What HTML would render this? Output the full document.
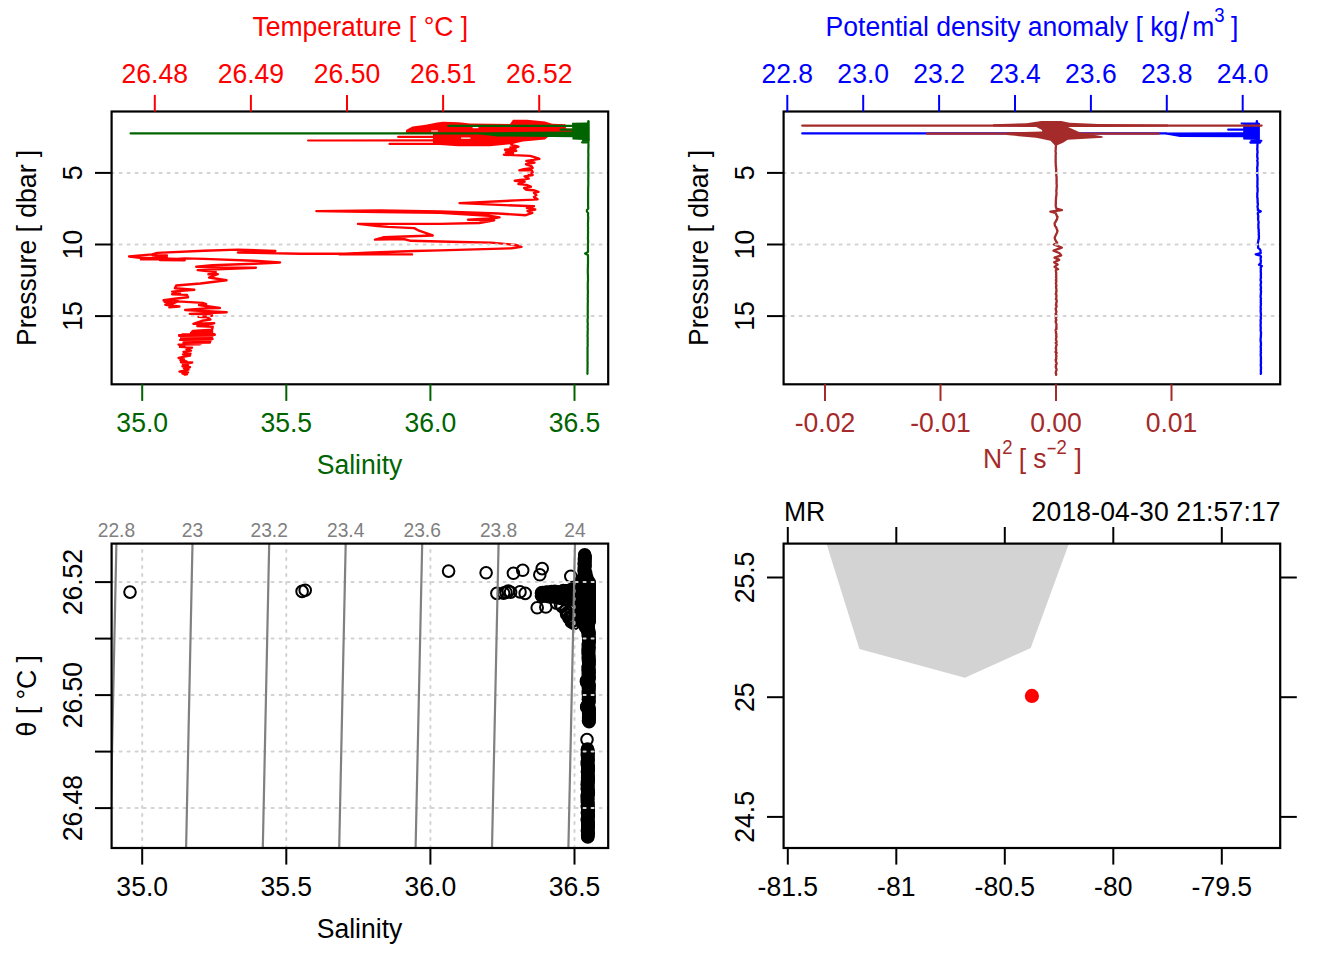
<!DOCTYPE html>
<html><head><meta charset="utf-8"><title>CTD plot</title>
<style>
html,body{margin:0;padding:0;background:#fff;}
body{width:1344px;height:960px;overflow:hidden;font-family:"Liberation Sans", sans-serif;}
svg{display:block;}
svg text{font-family:"Liberation Sans", sans-serif;}
</style></head><body>
<svg width="1344" height="960" viewBox="0 0 1344 960">
<rect width="1344" height="960" fill="#fff"/>
<polygon points="406.0,133.6 406.0,130.0 412.5,126.6 425.9,124.8 437.1,122.6 443.0,121.8 458.7,122.2 470.0,123.6 510.0,124.0 513.0,119.8 527.0,119.8 545.0,121.4 552.0,123.8 565.5,124.2 566.0,128.6 574.4,128.8 574.4,132.2 548.0,137.0 545.0,139.6 523.0,141.6 511.0,144.2 490.0,146.2 458.0,146.2 440.0,145.0 433.0,145.0 433.0,133.6" fill="#ff0000"/>
<polyline points="308.1,140.5 435.0,140.3" fill="none" stroke="#ff0000" stroke-width="2.2" stroke-linejoin="round" stroke-linecap="round" />
<polyline points="398.2,136.9 435.0,136.9" fill="none" stroke="#ff0000" stroke-width="2.2" stroke-linejoin="round" stroke-linecap="round" />
<polyline points="389.5,143.9 435.0,143.9" fill="none" stroke="#ff0000" stroke-width="2.2" stroke-linejoin="round" stroke-linecap="round" />
<polyline points="513.9,141.6 511.3,144.7 518.4,146.7 510.4,147.4 515.7,148.7 505.0,149.8 516.2,150.9 505.9,152.3 513.0,153.4 503.9,154.7 530.0,155.9 534.5,157.2 539.4,158.8 533.6,159.9 526.4,161.0 534.5,162.6 526.0,164.3 531.3,166.1 532.7,167.9 523.8,169.1 519.3,170.3 531.8,170.1 532.7,172.4 528.7,174.2 532.7,175.1 524.6,176.4 528.7,178.6 514.8,180.7 524.6,181.8 518.4,184.0 526.4,184.9 530.9,186.7 524.2,188.0 526.4,189.8 533.6,190.2 538.5,191.8 534.0,192.9 536.3,195.1 534.0,196.9 537.6,199.2 533.6,199.6 516.2,200.4 459.6,203.1 504.3,205.1 534.0,206.3 526.9,208.1 535.2,209.5 527.5,211.1 532.3,212.9 525.7,215.2 498.3,213.5 440.0,211.4 380.0,210.5 316.4,211.1 380.0,212.0 440.0,212.9 488.8,215.8 499.5,217.4 493.6,218.2 468.0,219.8 494.2,220.2 479.3,223.0 440.0,223.9 358.0,223.9 377.4,226.0 388.1,226.9 414.3,228.1 419.0,230.7 426.2,233.1 432.7,235.5 383.3,237.3 375.0,239.6 403.6,239.0 410.7,240.8 460.0,242.0 491.2,242.6 516.2,245.0 521.5,246.8 511.4,248.3 440.0,250.4 414.3,251.0 366.7,252.7 339.0,254.2 412.0,254.4 339.0,253.8 300.0,253.8 237.9,252.5 275.4,251.0 237.9,249.6 204.0,250.8 157.3,252.9 152.0,254.4 129.1,256.5 140.1,257.8 184.7,259.2 141.0,259.4 166.9,257.2 152.5,255.2 166.9,255.4 158.0,257.0 160.0,258.6 184.7,260.2 160.0,260.0 184.7,258.4 204.0,258.9 253.9,260.8 280.0,262.5 253.9,263.8 212.4,265.2 196.3,266.8 255.9,267.7 197.7,270.1 215.8,272.1 208.4,274.2 217.8,274.2 209.1,277.5 226.5,280.2 200.4,283.5 176.2,285.5 174.9,288.2 194.3,289.8 172.2,291.6 180.0,293.0 172.2,294.2 187.0,294.9 188.0,297.3 174.6,298.8 163.6,300.3 177.6,300.0 164.5,301.7 172.9,302.9 165.4,304.7 179.4,306.5 169.3,307.4 172.0,304.0 177.6,301.4 202.6,302.9 206.2,304.1 199.0,305.0 219.9,308.0 208.6,308.3 185.1,310.0 226.7,312.2 189.8,313.9 211.5,314.2 212.1,315.7 198.5,316.9 206.8,317.2 210.4,319.6 202.0,320.8 193.4,323.8 214.2,323.2 197.3,326.1 212.7,326.7 212.1,329.7 193.1,330.9 192.3,331.5 212.2,331.8 193.1,332.1 210.5,332.4 191.1,332.7 212.1,333.0 192.7,333.3 211.6,333.6 193.5,333.9 214.4,334.2 182.4,334.5 214.8,334.8 179.1,335.1 212.7,335.4 179.2,335.7 211.5,336.0 182.2,336.3 212.2,336.6 182.7,336.9 210.7,337.2 181.8,337.5 210.2,337.8 181.0,338.1 209.5,338.4 182.9,338.7 212.5,339.0 181.7,339.3 211.0,339.6 180.2,339.9 210.7,340.2 183.5,340.5 210.6,340.8 184.3,341.1 207.2,341.4 183.9,341.7 208.2,342.0 184.6,342.3 209.9,342.6 183.5,342.9 201.2,343.2 183.7,343.5 199.9,343.8 183.5,344.1 199.5,344.4 178.5,344.6 184.5,345.8 180.0,346.9 192.0,347.6 186.5,349.3 191.0,350.6 183.5,351.9 190.5,353.6 183.0,354.4 190.0,355.5 184.5,356.6 178.6,358.0 184.0,359.4 180.5,360.4 186.5,361.4 181.0,362.3 192.2,362.5 183.0,364.0 188.0,365.2 182.5,366.3 190.0,367.2 184.0,368.2 188.5,369.6 179.5,371.6 188.0,372.4 182.5,373.6 187.0,374.2 184.6,374.6" fill="none" stroke="#ff0000" stroke-width="2.4" stroke-linejoin="round" stroke-linecap="round" />
<line x1="431.50" y1="131.00" x2="437.50" y2="131.00" stroke="#fff" stroke-width="1.1" stroke-linecap="round"/>
<line x1="461.50" y1="138.10" x2="470.00" y2="138.10" stroke="#fff" stroke-width="1.1" stroke-linecap="round"/>
<line x1="473.00" y1="127.60" x2="478.00" y2="127.60" stroke="#fff" stroke-width="1.1" stroke-linecap="round"/>
<polyline points="588.4,140.0 588.3,141.5 588.4,142.9 588.4,144.3 588.5,145.7 588.4,147.1 588.4,148.5 588.3,149.9 588.3,151.3 588.3,152.7 588.4,154.1 588.4,155.5 588.3,156.9 588.3,158.3 588.3,159.7 588.3,161.1 588.3,162.5 588.3,163.9 588.3,165.3 588.2,166.7 588.3,168.1 588.3,169.5 588.3,170.9 588.4,172.3 588.3,173.7 588.3,175.1 588.3,176.5 588.3,177.9 588.2,179.3 588.3,180.7 588.3,182.1 588.3,183.5 588.3,184.9 588.2,186.3 588.2,187.7 588.1,189.1 588.2,190.5 588.1,191.9 588.1,193.3 588.1,194.7 588.1,196.1 588.1,197.5 588.1,198.9 588.1,200.3 588.1,201.7 588.1,203.1 588.1,204.5 588.1,205.9 588.2,207.3 588.2,208.7 586.9,210.1 586.9,211.5 588.1,212.9 588.1,214.3 588.0,215.7 588.2,217.1 588.2,218.5 588.1,219.9 588.1,221.3 588.0,222.7 588.0,224.1 588.0,225.5 588.0,226.9 588.1,228.3 588.0,229.7 588.0,231.1 588.1,232.5 588.0,233.9 588.0,235.3 588.0,236.7 587.9,238.1 588.0,239.5 588.1,240.9 588.1,242.3 588.0,243.7 587.9,245.1 588.0,246.5 587.9,247.9 588.0,249.3 588.0,250.7 588.0,252.1 585.1,253.5 587.9,254.9 588.0,256.3 588.0,257.7 588.0,259.1 588.0,260.5 588.0,261.9 588.0,263.3 587.9,264.7 587.9,266.1 587.9,267.5 587.8,268.9 587.8,270.3 587.8,271.7 587.8,273.1 587.9,274.5 588.0,275.9 587.9,277.3 588.0,278.7 588.0,280.1 587.9,281.5 587.8,282.9 587.8,284.3 587.8,285.7 587.8,287.1 587.8,288.5 587.8,289.9 587.9,291.3 587.9,292.7 587.8,294.1 587.8,295.5 587.9,296.9 587.7,298.3 587.8,299.7 587.9,301.1 587.8,302.5 587.8,303.9 587.8,305.3 587.7,306.7 587.8,308.1 587.7,309.5 587.8,310.9 587.8,312.3 587.7,313.7 587.7,315.1 587.8,316.5 587.8,317.9 587.6,319.3 587.6,320.7 587.6,322.1 587.8,323.5 587.8,324.9 587.6,326.3 587.7,327.7 587.8,329.1 587.7,330.5 587.6,331.9 587.7,333.3 587.6,334.7 587.5,336.1 587.7,337.5 587.7,338.9 587.6,340.3 587.7,341.7 587.6,343.1 587.7,344.5 587.7,345.9 587.5,347.3 587.5,348.7 587.6,350.1 587.5,351.5 587.6,352.9 587.5,354.3 587.6,355.7 587.5,357.1 587.6,358.5 587.5,359.9 587.5,361.3 587.6,362.7 587.6,364.1 587.5,365.5 587.6,366.9 587.5,368.3 587.5,369.7 587.5,371.1 587.4,372.5 587.5,373.8" fill="none" stroke="#006400" stroke-width="2.2" stroke-linejoin="round" stroke-linecap="round" />
<polyline points="130.6,133.4 497.0,133.4" fill="none" stroke="#006400" stroke-width="2.2" stroke-linejoin="round" stroke-linecap="round" />
<polyline points="448.3,125.9 572.0,125.9" fill="none" stroke="#006400" stroke-width="2.2" stroke-linejoin="round" stroke-linecap="round" />
<polyline points="560.6,129.7 574.0,129.7" fill="none" stroke="#006400" stroke-width="2.2" stroke-linejoin="round" stroke-linecap="round" />
<polyline points="583.0,140.7 587.0,140.7" fill="none" stroke="#006400" stroke-width="2.2" stroke-linejoin="round" stroke-linecap="round" />
<polyline points="582.0,142.3 587.0,142.3" fill="none" stroke="#006400" stroke-width="2.2" stroke-linejoin="round" stroke-linecap="round" />
<polyline points="588.3,121.2 588.3,141.0" fill="none" stroke="#006400" stroke-width="2.2" stroke-linejoin="round" stroke-linecap="round" />
<polygon points="497.0,132.2 574.5,131.6 574.5,137.3 497.0,136.4 480.0,134.4" fill="#006400"/>
<polygon points="572.0,122.8 587.0,122.4 589.5,120.6 589.6,140.2 572.5,139.6" fill="#006400"/>
<line x1="111.60" y1="172.90" x2="608.20" y2="172.90" stroke="#d3d3d3" stroke-width="2" stroke-dasharray="2 6" stroke-linecap="round"/>
<line x1="111.60" y1="244.50" x2="608.20" y2="244.50" stroke="#d3d3d3" stroke-width="2" stroke-dasharray="2 6" stroke-linecap="round"/>
<line x1="111.60" y1="316.10" x2="608.20" y2="316.10" stroke="#d3d3d3" stroke-width="2" stroke-dasharray="2 6" stroke-linecap="round"/>
<rect x="111.60" y="111.50" width="496.60" height="272.80" fill="none" stroke="#000" stroke-width="2.2"/>
<line x1="154.80" y1="111.50" x2="154.80" y2="94.90" stroke="#ff0000" stroke-width="2" />
<text transform="translate(154.80 82.70) scale(1 1.06)" fill="#ff0000" font-size="26.56" text-anchor="middle" >26.48</text>
<line x1="250.90" y1="111.50" x2="250.90" y2="94.90" stroke="#ff0000" stroke-width="2" />
<text transform="translate(250.90 82.70) scale(1 1.06)" fill="#ff0000" font-size="26.56" text-anchor="middle" >26.49</text>
<line x1="347.00" y1="111.50" x2="347.00" y2="94.90" stroke="#ff0000" stroke-width="2" />
<text transform="translate(347.00 82.70) scale(1 1.06)" fill="#ff0000" font-size="26.56" text-anchor="middle" >26.50</text>
<line x1="443.10" y1="111.50" x2="443.10" y2="94.90" stroke="#ff0000" stroke-width="2" />
<text transform="translate(443.10 82.70) scale(1 1.06)" fill="#ff0000" font-size="26.56" text-anchor="middle" >26.51</text>
<line x1="539.20" y1="111.50" x2="539.20" y2="94.90" stroke="#ff0000" stroke-width="2" />
<text transform="translate(539.20 82.70) scale(1 1.06)" fill="#ff0000" font-size="26.56" text-anchor="middle" >26.52</text>
<text transform="translate(360.30 35.80) scale(1 1.06)" fill="#ff0000" font-size="26.56" text-anchor="middle" >Temperature [ °C ]</text>
<line x1="142.20" y1="384.30" x2="142.20" y2="400.90" stroke="#006400" stroke-width="2" />
<text transform="translate(142.20 432.20) scale(1 1.06)" fill="#006400" font-size="26.56" text-anchor="middle" >35.0</text>
<line x1="286.30" y1="384.30" x2="286.30" y2="400.90" stroke="#006400" stroke-width="2" />
<text transform="translate(286.30 432.20) scale(1 1.06)" fill="#006400" font-size="26.56" text-anchor="middle" >35.5</text>
<line x1="430.40" y1="384.30" x2="430.40" y2="400.90" stroke="#006400" stroke-width="2" />
<text transform="translate(430.40 432.20) scale(1 1.06)" fill="#006400" font-size="26.56" text-anchor="middle" >36.0</text>
<line x1="574.50" y1="384.30" x2="574.50" y2="400.90" stroke="#006400" stroke-width="2" />
<text transform="translate(574.50 432.20) scale(1 1.06)" fill="#006400" font-size="26.56" text-anchor="middle" >36.5</text>
<text transform="translate(359.50 474.10) scale(1 1.06)" fill="#006400" font-size="26.56" text-anchor="middle" >Salinity</text>
<line x1="111.60" y1="172.90" x2="95.00" y2="172.90" stroke="#000" stroke-width="2" />
<text transform="translate(82.30 172.90) rotate(-90) scale(1 1.06)" fill="#000" font-size="26.56" text-anchor="middle" >5</text>
<line x1="111.60" y1="244.50" x2="95.00" y2="244.50" stroke="#000" stroke-width="2" />
<text transform="translate(82.30 244.50) rotate(-90) scale(1 1.06)" fill="#000" font-size="26.56" text-anchor="middle" >10</text>
<line x1="111.60" y1="316.10" x2="95.00" y2="316.10" stroke="#000" stroke-width="2" />
<text transform="translate(82.30 316.10) rotate(-90) scale(1 1.06)" fill="#000" font-size="26.56" text-anchor="middle" >15</text>
<text transform="translate(35.70 247.90) rotate(-90) scale(1 1.06)" fill="#000" font-size="26.56" text-anchor="middle" >Pressure [ dbar ]</text>
<polyline points="1257.5,140.0 1257.4,141.2 1257.4,142.5 1257.6,143.8 1257.4,145.1 1257.4,146.4 1257.4,147.7 1257.2,149.0 1257.4,150.3 1257.5,151.6 1257.5,152.9 1257.2,154.2 1257.3,155.5 1257.2,156.8 1257.6,158.1 1257.5,159.4 1257.2,160.7 1257.6,162.0 1257.6,163.3 1257.5,164.6 1257.5,165.9 1257.2,167.2 1257.2,168.5 1257.4,169.8 1257.2,171.1 1257.2,172.4 1257.3,173.7 1257.2,175.0 1257.4,176.3 1257.4,177.6 1257.6,178.9 1257.4,180.2 1257.5,181.5 1257.4,182.8 1257.5,184.1 1257.4,185.4 1257.3,186.7 1257.6,188.0 1257.6,189.3 1257.6,190.6 1257.5,191.9 1257.3,193.2 1257.3,194.5 1257.3,195.8 1257.2,197.1 1257.6,198.4 1257.5,199.7 1257.7,201.0 1257.5,202.3 1257.9,203.6 1257.8,204.9 1257.5,206.2 1257.6,207.5 1258.0,208.8 1257.8,210.1 1260.8,211.4 1257.9,212.7 1257.8,214.0 1258.2,215.3 1258.3,216.6 1258.1,217.9 1258.1,219.2 1258.3,220.5 1258.6,221.8 1258.6,223.1 1258.3,224.4 1258.4,225.7 1258.4,227.0 1258.4,228.3 1258.8,229.6 1258.6,230.9 1258.8,232.2 1258.8,233.5 1258.7,234.8 1259.0,236.1 1258.8,237.4 1258.9,238.7 1258.4,240.0 1258.3,241.3 1258.0,242.6 1257.7,243.9 1258.0,245.2 1258.1,246.5 1258.1,247.8 1259.7,249.1 1260.5,250.4 1260.6,251.7 1260.8,253.0 1255.7,254.3 1260.5,255.6 1261.0,256.9 1260.6,258.2 1260.6,259.5 1260.9,260.8 1260.7,262.1 1260.7,263.4 1259.0,264.7 1261.9,266.0 1260.8,267.3 1260.7,268.6 1260.9,269.9 1260.7,271.2 1260.8,272.5 1261.0,273.8 1260.8,275.1 1260.8,276.4 1261.0,277.7 1260.6,279.0 1260.6,280.3 1261.0,281.6 1261.0,282.9 1260.7,284.2 1260.6,285.5 1260.9,286.8 1261.0,288.1 1260.6,289.4 1261.0,290.7 1261.0,292.0 1260.9,293.3 1260.8,294.6 1260.6,295.9 1260.6,297.2 1261.0,298.5 1260.7,299.8 1260.9,301.1 1260.7,302.4 1261.0,303.7 1260.8,305.0 1260.7,306.3 1260.6,307.6 1260.9,308.9 1260.6,310.2 1260.7,311.5 1260.8,312.8 1261.0,314.1 1260.9,315.4 1260.7,316.7 1261.0,318.0 1260.7,319.3 1260.6,320.6 1260.7,321.9 1260.8,323.2 1260.6,324.5 1260.6,325.8 1260.7,327.1 1260.8,328.4 1260.6,329.7 1260.7,331.0 1261.0,332.3 1261.0,333.6 1260.9,334.9 1260.9,336.2 1260.8,337.5 1260.6,338.8 1260.6,340.1 1260.6,341.4 1261.0,342.7 1260.9,344.0 1261.0,345.3 1260.6,346.6 1260.9,347.9 1260.8,349.2 1260.9,350.5 1260.7,351.8 1261.0,353.1 1260.6,354.4 1260.8,355.7 1260.9,357.0 1261.0,358.3 1260.9,359.6 1260.9,360.9 1260.9,362.2 1261.0,363.5 1260.7,364.8 1260.9,366.1 1261.0,367.4 1261.0,368.7 1260.8,370.0 1260.9,371.3 1261.0,372.6 1260.8,373.8" fill="none" stroke="#0000ff" stroke-width="2.3" stroke-linejoin="round" stroke-linecap="round" />
<polyline points="802.3,133.4 1166.0,133.4" fill="none" stroke="#0000ff" stroke-width="2.3" stroke-linejoin="round" stroke-linecap="round" />
<polyline points="1228.2,129.6 1244.0,129.6" fill="none" stroke="#0000ff" stroke-width="2.3" stroke-linejoin="round" stroke-linecap="round" />
<polyline points="1251.4,140.8 1261.3,140.8" fill="none" stroke="#0000ff" stroke-width="2.3" stroke-linejoin="round" stroke-linecap="round" />
<polyline points="1250.4,142.5 1260.2,142.5" fill="none" stroke="#0000ff" stroke-width="2.3" stroke-linejoin="round" stroke-linecap="round" />
<polyline points="1256.9,121.2 1256.9,141.0" fill="none" stroke="#0000ff" stroke-width="2.3" stroke-linejoin="round" stroke-linecap="round" />
<polygon points="1165.7,132.4 1244.0,132.2 1244.0,137.3 1180.0,137.1 1165.7,134.6" fill="#0000ff"/>
<polygon points="1240.7,122.6 1255.8,122.6 1256.8,120.6 1258.2,122.6 1259.9,123.0 1259.9,140.0 1243.2,139.6 1243.2,124.6 1240.7,124.6" fill="#0000ff"/>
<polyline points="802.3,125.6 1261.6,125.6" fill="none" stroke="#a52a2a" stroke-width="2.3" stroke-linejoin="round" stroke-linecap="round" />
<polyline points="927.0,133.7 1158.6,133.7" fill="none" stroke="#a52a2a" stroke-width="2.3" stroke-linejoin="round" stroke-linecap="round" />
<polyline points="1056.0,144.5 1055.9,146.0 1055.9,147.0 1055.7,148.0 1055.8,149.0 1055.7,150.0 1055.5,151.0 1055.7,152.0 1055.8,153.0 1055.8,154.0 1055.7,155.0 1055.6,156.0 1055.7,157.0 1055.7,158.0 1055.6,159.0 1055.8,160.0 1055.5,161.0 1055.8,162.0 1055.6,163.0 1055.8,164.0 1055.8,165.0 1055.8,166.0 1056.0,167.0 1056.0,168.0 1056.1,169.0 1056.3,170.0 1056.1,171.0 1056.0,172.0 1056.2,173.0 1056.4,174.0 1056.3,175.0 1056.3,176.0 1056.6,177.0 1056.6,178.0 1056.5,179.0 1056.7,180.0 1056.5,181.0 1056.7,182.0 1056.5,183.0 1056.6,184.0 1056.7,185.0 1056.8,186.0 1056.7,187.0 1056.5,188.0 1056.6,189.0 1056.4,190.0 1056.3,191.0 1056.4,192.0 1056.5,193.0 1056.5,194.0 1056.3,195.0 1056.4,196.0 1056.1,197.0 1056.0,198.0 1056.0,199.0 1055.9,200.0 1055.8,201.0 1055.8,202.0 1055.9,203.0 1055.8,204.0 1055.7,205.0 1055.8,206.0 1055.9,207.0 1056.4,208.6 1061.9,210.2 1050.4,211.6 1055.5,212.8 1056.1,214.0 1056.5,215.0 1056.9,216.0 1057.6,217.0 1057.1,218.0 1057.1,219.0 1056.6,220.0 1055.9,221.0 1055.5,222.0 1054.7,223.0 1054.6,224.0 1054.9,225.0 1055.0,226.0 1056.0,227.0 1056.3,228.0 1056.8,229.0 1057.1,230.0 1057.5,231.0 1057.2,232.0 1056.9,233.0 1056.3,234.0 1055.8,235.0 1055.4,236.0 1054.9,237.0 1054.7,238.0 1055.0,239.0 1055.4,240.0 1055.9,241.0 1056.7,242.0 1057.2,243.0 1053.8,244.5 1061.8,247.6 1053.5,250.7 1059.2,253.0 1061.2,255.3 1054.5,257.6 1059.2,259.9 1054.1,262.2 1057.6,264.5 1054.5,266.9 1058.1,269.2 1055.8,270.0 1055.9,271.0 1056.0,272.0 1056.3,273.0 1056.1,274.0 1056.2,275.0 1056.3,276.0 1056.0,277.0 1056.3,278.0 1056.4,279.0 1055.8,280.0 1056.4,281.0 1056.3,282.0 1055.8,283.0 1056.1,284.0 1056.2,285.0 1056.4,286.0 1056.0,287.0 1056.2,288.0 1056.4,289.0 1056.3,290.0 1056.6,291.0 1056.1,292.0 1056.3,293.0 1055.7,294.0 1056.4,295.0 1056.5,296.0 1056.3,297.0 1056.4,298.0 1055.8,299.0 1056.6,300.0 1056.7,301.0 1056.7,302.0 1056.1,303.0 1056.4,304.0 1055.9,305.0 1056.6,306.0 1056.5,307.0 1055.9,308.0 1055.6,309.0 1056.0,310.0 1056.2,311.0 1056.4,312.0 1056.1,313.0 1055.5,314.0 1056.5,315.0 1055.6,316.0 1056.5,317.0 1055.7,318.0 1055.9,319.0 1056.4,320.0 1055.7,321.0 1055.7,322.0 1056.1,323.0 1056.4,324.0 1056.5,325.0 1056.3,326.0 1056.6,327.0 1056.1,328.0 1056.6,329.0 1055.6,330.0 1055.8,331.0 1056.1,332.0 1055.8,333.0 1056.4,334.0 1056.3,335.0 1056.1,336.0 1056.5,337.0 1056.2,338.0 1055.9,339.0 1056.0,340.0 1056.5,341.0 1056.6,342.0 1055.7,343.0 1056.5,344.0 1056.7,345.0 1056.1,346.0 1056.2,347.0 1055.7,348.0 1056.1,349.0 1056.1,350.0 1056.2,351.0 1055.5,352.0 1056.7,353.0 1056.1,354.0 1056.0,355.0 1056.5,356.0 1056.2,357.0 1056.1,358.0 1056.3,359.0 1055.6,360.0 1056.1,361.0 1056.0,362.0 1056.6,363.0 1056.6,364.0 1055.8,365.0 1056.1,366.0 1055.7,367.0 1056.0,368.0 1056.5,369.0 1056.6,370.0 1056.1,371.0 1055.9,372.0 1055.7,373.0 1056.2,374.0 1056.1,374.8" fill="none" stroke="#a52a2a" stroke-width="2.3" stroke-linejoin="round" stroke-linecap="round" />
<polygon points="993.0,124.2 1026.7,123.3 1041.5,121.0 1061.2,121.0 1069.5,122.8 1098.0,123.9 1168.0,124.4 1168.0,126.4 1098.0,126.9 1068.0,126.9 1080.2,132.4 1102.3,136.2 1102.8,137.8 1067.7,139.8 1063.0,142.8 1057.2,145.2 1054.8,145.2 1050.5,140.8 1036.2,137.8 1006.4,135.0 1006.4,132.6 1042.1,131.4 1042.1,129.9 1036.2,126.9 1026.7,126.9 993.0,126.4" fill="#a52a2a"/>
<line x1="783.60" y1="172.90" x2="1280.20" y2="172.90" stroke="#d3d3d3" stroke-width="2" stroke-dasharray="2 6" stroke-linecap="round"/>
<line x1="783.60" y1="244.50" x2="1280.20" y2="244.50" stroke="#d3d3d3" stroke-width="2" stroke-dasharray="2 6" stroke-linecap="round"/>
<line x1="783.60" y1="316.10" x2="1280.20" y2="316.10" stroke="#d3d3d3" stroke-width="2" stroke-dasharray="2 6" stroke-linecap="round"/>
<rect x="783.60" y="111.50" width="496.60" height="272.80" fill="none" stroke="#000" stroke-width="2.2"/>
<line x1="787.30" y1="111.50" x2="787.30" y2="94.90" stroke="#0000ff" stroke-width="2" />
<text transform="translate(787.30 82.80) scale(1 1.06)" fill="#0000ff" font-size="26.56" text-anchor="middle" >22.8</text>
<line x1="863.20" y1="111.50" x2="863.20" y2="94.90" stroke="#0000ff" stroke-width="2" />
<text transform="translate(863.20 82.80) scale(1 1.06)" fill="#0000ff" font-size="26.56" text-anchor="middle" >23.0</text>
<line x1="939.10" y1="111.50" x2="939.10" y2="94.90" stroke="#0000ff" stroke-width="2" />
<text transform="translate(939.10 82.80) scale(1 1.06)" fill="#0000ff" font-size="26.56" text-anchor="middle" >23.2</text>
<line x1="1015.00" y1="111.50" x2="1015.00" y2="94.90" stroke="#0000ff" stroke-width="2" />
<text transform="translate(1015.00 82.80) scale(1 1.06)" fill="#0000ff" font-size="26.56" text-anchor="middle" >23.4</text>
<line x1="1090.90" y1="111.50" x2="1090.90" y2="94.90" stroke="#0000ff" stroke-width="2" />
<text transform="translate(1090.90 82.80) scale(1 1.06)" fill="#0000ff" font-size="26.56" text-anchor="middle" >23.6</text>
<line x1="1166.80" y1="111.50" x2="1166.80" y2="94.90" stroke="#0000ff" stroke-width="2" />
<text transform="translate(1166.80 82.80) scale(1 1.06)" fill="#0000ff" font-size="26.56" text-anchor="middle" >23.8</text>
<line x1="1242.70" y1="111.50" x2="1242.70" y2="94.90" stroke="#0000ff" stroke-width="2" />
<text transform="translate(1242.70 82.80) scale(1 1.06)" fill="#0000ff" font-size="26.56" text-anchor="middle" >24.0</text>
<text transform="translate(825.60 35.60) scale(1 1.06)" fill="#0000ff" font-size="26.56" text-anchor="start" >Potential density anomaly [ kg</text>
<line x1="1181.10" y1="39.20" x2="1188.40" y2="11.40" stroke="#0000ff" stroke-width="2.2" />
<text transform="translate(1192.30 35.60) scale(1 1.06)" fill="#0000ff" font-size="26.56" text-anchor="start" >m</text>
<text transform="translate(1214.30 22.00) scale(1 1.06)" fill="#0000ff" font-size="18.6" text-anchor="start" >3</text>
<text transform="translate(1231.00 35.60) scale(1 1.06)" fill="#0000ff" font-size="26.56" text-anchor="start" >]</text>
<line x1="825.00" y1="384.30" x2="825.00" y2="400.90" stroke="#a52a2a" stroke-width="2" />
<text transform="translate(825.00 432.00) scale(1 1.06)" fill="#a52a2a" font-size="26.56" text-anchor="middle" >-0.02</text>
<line x1="940.50" y1="384.30" x2="940.50" y2="400.90" stroke="#a52a2a" stroke-width="2" />
<text transform="translate(940.50 432.00) scale(1 1.06)" fill="#a52a2a" font-size="26.56" text-anchor="middle" >-0.01</text>
<line x1="1056.00" y1="384.30" x2="1056.00" y2="400.90" stroke="#a52a2a" stroke-width="2" />
<text transform="translate(1056.00 432.00) scale(1 1.06)" fill="#a52a2a" font-size="26.56" text-anchor="middle" >0.00</text>
<line x1="1171.50" y1="384.30" x2="1171.50" y2="400.90" stroke="#a52a2a" stroke-width="2" />
<text transform="translate(1171.50 432.00) scale(1 1.06)" fill="#a52a2a" font-size="26.56" text-anchor="middle" >0.01</text>
<text transform="translate(983.00 467.60) scale(1 1.06)" fill="#a52a2a" font-size="26.56" text-anchor="start" >N</text>
<text transform="translate(1002.30 454.20) scale(1 1.06)" fill="#a52a2a" font-size="18.6" text-anchor="start" >2</text>
<text transform="translate(1018.80 467.60) scale(1 1.06)" fill="#a52a2a" font-size="26.56" text-anchor="start" >[</text>
<text transform="translate(1033.30 467.60) scale(1 1.06)" fill="#a52a2a" font-size="26.56" text-anchor="start" >s</text>
<line x1="1047.60" y1="448.60" x2="1055.60" y2="448.60" stroke="#a52a2a" stroke-width="1.6" />
<text transform="translate(1056.60 454.20) scale(1 1.06)" fill="#a52a2a" font-size="18.6" text-anchor="start" >2</text>
<text transform="translate(1074.40 467.60) scale(1 1.06)" fill="#a52a2a" font-size="26.56" text-anchor="start" >]</text>
<line x1="783.60" y1="172.90" x2="767.00" y2="172.90" stroke="#000" stroke-width="2" />
<text transform="translate(754.30 172.90) rotate(-90) scale(1 1.06)" fill="#000" font-size="26.56" text-anchor="middle" >5</text>
<line x1="783.60" y1="244.50" x2="767.00" y2="244.50" stroke="#000" stroke-width="2" />
<text transform="translate(754.30 244.50) rotate(-90) scale(1 1.06)" fill="#000" font-size="26.56" text-anchor="middle" >10</text>
<line x1="783.60" y1="316.10" x2="767.00" y2="316.10" stroke="#000" stroke-width="2" />
<text transform="translate(754.30 316.10) rotate(-90) scale(1 1.06)" fill="#000" font-size="26.56" text-anchor="middle" >15</text>
<text transform="translate(707.70 247.90) rotate(-90) scale(1 1.06)" fill="#000" font-size="26.56" text-anchor="middle" >Pressure [ dbar ]</text>
<g fill="none" stroke="#000" stroke-width="2"><circle cx="130.0" cy="592.1" r="5.8"/><circle cx="302.1" cy="591.4" r="5.8"/><circle cx="305.2" cy="590.2" r="5.8"/><circle cx="448.6" cy="571.1" r="5.8"/><circle cx="486.1" cy="572.8" r="5.8"/><circle cx="513.4" cy="573.3" r="5.8"/><circle cx="522.7" cy="570.3" r="5.8"/><circle cx="542.2" cy="568.6" r="5.8"/><circle cx="539.8" cy="574.8" r="5.8"/><circle cx="570.8" cy="576.3" r="5.8"/><circle cx="496.9" cy="593.4" r="5.8"/><circle cx="503.6" cy="593.1" r="5.8"/><circle cx="505.9" cy="592.2" r="5.8"/><circle cx="508.3" cy="591.1" r="5.8"/><circle cx="510.6" cy="592.2" r="5.8"/><circle cx="520.0" cy="591.9" r="5.8"/><circle cx="525.2" cy="593.4" r="5.8"/><circle cx="537.2" cy="607.8" r="5.8"/><circle cx="545.8" cy="607.0" r="5.8"/><circle cx="556.6" cy="603.2" r="5.8"/><circle cx="565.9" cy="610.7" r="5.8"/><circle cx="567.6" cy="612.6" r="5.8"/><circle cx="566.6" cy="614.2" r="5.8"/><circle cx="568.1" cy="615.1" r="5.8"/><circle cx="570.4" cy="616.6" r="5.8"/><circle cx="569.0" cy="618.0" r="5.8"/><circle cx="570.8" cy="618.7" r="5.8"/><circle cx="572.6" cy="620.6" r="5.8"/><circle cx="571.4" cy="622.0" r="5.8"/><circle cx="574.0" cy="623.5" r="5.8"/><circle cx="562.0" cy="606.5" r="5.8"/><circle cx="560.5" cy="604.5" r="5.8"/><circle cx="587.0" cy="739.6" r="5.8"/><circle cx="552.4" cy="594.6" r="5.8"/><circle cx="557.2" cy="595.1" r="5.8"/><circle cx="565.7" cy="590.9" r="5.8"/><circle cx="542.1" cy="595.4" r="5.8"/><circle cx="553.2" cy="592.8" r="5.8"/><circle cx="576.9" cy="594.5" r="5.8"/><circle cx="572.2" cy="594.5" r="5.8"/><circle cx="566.2" cy="591.6" r="5.8"/><circle cx="566.0" cy="597.8" r="5.8"/><circle cx="562.4" cy="596.4" r="5.8"/><circle cx="567.2" cy="590.8" r="5.8"/><circle cx="569.8" cy="595.6" r="5.8"/><circle cx="554.8" cy="591.4" r="5.8"/><circle cx="573.1" cy="594.5" r="5.8"/><circle cx="568.6" cy="598.1" r="5.8"/><circle cx="568.5" cy="598.5" r="5.8"/><circle cx="558.1" cy="596.6" r="5.8"/><circle cx="559.8" cy="597.7" r="5.8"/><circle cx="573.5" cy="590.7" r="5.8"/><circle cx="548.3" cy="592.9" r="5.8"/><circle cx="576.0" cy="594.1" r="5.8"/><circle cx="565.8" cy="592.9" r="5.8"/><circle cx="561.9" cy="593.7" r="5.8"/><circle cx="556.6" cy="595.0" r="5.8"/><circle cx="564.4" cy="597.9" r="5.8"/><circle cx="567.5" cy="598.5" r="5.8"/><circle cx="572.8" cy="599.7" r="5.8"/><circle cx="567.2" cy="591.7" r="5.8"/><circle cx="572.9" cy="599.4" r="5.8"/><circle cx="574.2" cy="595.5" r="5.8"/><circle cx="568.5" cy="592.0" r="5.8"/><circle cx="572.1" cy="595.5" r="5.8"/><circle cx="554.2" cy="591.7" r="5.8"/><circle cx="572.7" cy="599.7" r="5.8"/><circle cx="546.2" cy="595.6" r="5.8"/><circle cx="558.7" cy="592.0" r="5.8"/><circle cx="554.5" cy="596.1" r="5.8"/><circle cx="573.3" cy="590.2" r="5.8"/><circle cx="565.4" cy="590.7" r="5.8"/><circle cx="568.6" cy="593.1" r="5.8"/><circle cx="573.5" cy="599.7" r="5.8"/><circle cx="561.9" cy="598.4" r="5.8"/><circle cx="555.1" cy="591.7" r="5.8"/><circle cx="564.9" cy="590.7" r="5.8"/><circle cx="550.8" cy="593.8" r="5.8"/><circle cx="565.3" cy="591.7" r="5.8"/><circle cx="543.9" cy="595.6" r="5.8"/><circle cx="555.2" cy="597.3" r="5.8"/><circle cx="574.0" cy="593.5" r="5.8"/><circle cx="560.4" cy="594.7" r="5.8"/><circle cx="566.3" cy="595.5" r="5.8"/><circle cx="563.6" cy="595.5" r="5.8"/><circle cx="575.3" cy="594.9" r="5.8"/><circle cx="559.4" cy="596.1" r="5.8"/><circle cx="552.4" cy="593.2" r="5.8"/><circle cx="576.4" cy="595.1" r="5.8"/><circle cx="563.3" cy="590.6" r="5.8"/><circle cx="558.8" cy="595.0" r="5.8"/><circle cx="542.6" cy="594.6" r="5.8"/><circle cx="565.9" cy="590.8" r="5.8"/><circle cx="565.8" cy="594.3" r="5.8"/><circle cx="567.4" cy="593.3" r="5.8"/><circle cx="568.3" cy="596.8" r="5.8"/><circle cx="542.7" cy="592.5" r="5.8"/><circle cx="567.3" cy="598.8" r="5.8"/><circle cx="552.9" cy="594.1" r="5.8"/><circle cx="564.7" cy="593.1" r="5.8"/><circle cx="557.0" cy="593.2" r="5.8"/><circle cx="557.2" cy="595.1" r="5.8"/><circle cx="554.8" cy="593.6" r="5.8"/><circle cx="570.3" cy="590.2" r="5.8"/><circle cx="563.9" cy="596.5" r="5.8"/><circle cx="555.1" cy="592.6" r="5.8"/><circle cx="571.2" cy="592.2" r="5.8"/><circle cx="550.4" cy="593.9" r="5.8"/><circle cx="568.0" cy="591.1" r="5.8"/><circle cx="555.5" cy="593.3" r="5.8"/><circle cx="572.1" cy="594.1" r="5.8"/><circle cx="572.8" cy="591.4" r="5.8"/><circle cx="556.1" cy="595.4" r="5.8"/><circle cx="573.6" cy="594.3" r="5.8"/><circle cx="551.9" cy="592.2" r="5.8"/><circle cx="562.7" cy="592.1" r="5.8"/><circle cx="571.3" cy="598.0" r="5.8"/><circle cx="550.3" cy="593.1" r="5.8"/><circle cx="571.3" cy="596.1" r="5.8"/><circle cx="571.3" cy="593.2" r="5.8"/><circle cx="548.0" cy="593.2" r="5.8"/><circle cx="570.9" cy="592.5" r="5.8"/><circle cx="556.4" cy="593.9" r="5.8"/><circle cx="559.0" cy="593.8" r="5.8"/><circle cx="574.7" cy="591.2" r="5.8"/><circle cx="541.5" cy="595.7" r="5.8"/><circle cx="573.5" cy="599.7" r="5.8"/><circle cx="559.5" cy="597.7" r="5.8"/><circle cx="574.9" cy="591.9" r="5.8"/><circle cx="569.5" cy="597.8" r="5.8"/><circle cx="566.9" cy="594.8" r="5.8"/><circle cx="554.3" cy="593.4" r="5.8"/><circle cx="552.0" cy="591.9" r="5.8"/><circle cx="564.6" cy="592.8" r="5.8"/><circle cx="571.4" cy="590.3" r="5.8"/><circle cx="574.2" cy="596.8" r="5.8"/><circle cx="574.8" cy="598.9" r="5.8"/><circle cx="574.1" cy="595.6" r="5.8"/><circle cx="542.1" cy="595.0" r="5.8"/><circle cx="549.8" cy="593.2" r="5.8"/><circle cx="566.9" cy="594.9" r="5.8"/><circle cx="558.8" cy="597.6" r="5.8"/><circle cx="565.3" cy="593.3" r="5.8"/><circle cx="553.0" cy="596.5" r="5.8"/><circle cx="560.9" cy="596.6" r="5.8"/><circle cx="556.6" cy="592.4" r="5.8"/><circle cx="562.8" cy="597.1" r="5.8"/><circle cx="549.8" cy="595.8" r="5.8"/><circle cx="574.7" cy="598.0" r="5.8"/><circle cx="571.8" cy="589.9" r="5.8"/><circle cx="565.8" cy="597.7" r="5.8"/><circle cx="544.3" cy="593.2" r="5.8"/><circle cx="553.6" cy="594.5" r="5.8"/><circle cx="559.1" cy="594.3" r="5.8"/><circle cx="570.4" cy="590.0" r="5.8"/><circle cx="544.5" cy="592.6" r="5.8"/><circle cx="547.8" cy="592.2" r="5.8"/><circle cx="576.3" cy="598.6" r="5.8"/><circle cx="546.1" cy="594.2" r="5.8"/><circle cx="555.3" cy="593.2" r="5.8"/><circle cx="556.6" cy="595.4" r="5.8"/><circle cx="564.5" cy="593.4" r="5.8"/><circle cx="550.6" cy="593.4" r="5.8"/><circle cx="547.8" cy="594.5" r="5.8"/><circle cx="568.6" cy="593.6" r="5.8"/><circle cx="545.8" cy="592.8" r="5.8"/><circle cx="557.4" cy="595.2" r="5.8"/><circle cx="570.6" cy="593.6" r="5.8"/><circle cx="571.1" cy="595.9" r="5.8"/><circle cx="559.4" cy="593.6" r="5.8"/><circle cx="561.5" cy="596.1" r="5.8"/><circle cx="559.0" cy="595.9" r="5.8"/><circle cx="560.4" cy="592.6" r="5.8"/><circle cx="562.9" cy="596.1" r="5.8"/><circle cx="545.4" cy="593.9" r="5.8"/><circle cx="559.2" cy="597.2" r="5.8"/><circle cx="575.2" cy="593.5" r="5.8"/><circle cx="574.0" cy="597.8" r="5.8"/><circle cx="553.3" cy="594.1" r="5.8"/><circle cx="547.7" cy="595.7" r="5.8"/><circle cx="566.9" cy="598.0" r="5.8"/><circle cx="570.9" cy="596.3" r="5.8"/><circle cx="569.1" cy="595.3" r="5.8"/><circle cx="546.8" cy="594.6" r="5.8"/><circle cx="541.5" cy="592.9" r="5.8"/><circle cx="570.3" cy="590.4" r="5.8"/><circle cx="546.3" cy="592.4" r="5.8"/><circle cx="573.5" cy="591.5" r="5.8"/><circle cx="542.8" cy="595.4" r="5.8"/><circle cx="547.7" cy="595.9" r="5.8"/><circle cx="567.2" cy="597.6" r="5.8"/><circle cx="575.6" cy="595.7" r="5.8"/><circle cx="571.1" cy="590.2" r="5.8"/><circle cx="570.1" cy="594.8" r="5.8"/><circle cx="568.5" cy="591.1" r="5.8"/><circle cx="569.6" cy="598.8" r="5.8"/><circle cx="544.8" cy="593.4" r="5.8"/><circle cx="563.8" cy="597.2" r="5.8"/><circle cx="552.6" cy="592.5" r="5.8"/><circle cx="552.9" cy="595.0" r="5.8"/><circle cx="569.7" cy="593.7" r="5.8"/><circle cx="557.2" cy="593.7" r="5.8"/><circle cx="556.6" cy="593.9" r="5.8"/><circle cx="545.9" cy="594.2" r="5.8"/><circle cx="576.2" cy="593.9" r="5.8"/><circle cx="569.5" cy="591.5" r="5.8"/><circle cx="567.8" cy="597.0" r="5.8"/><circle cx="567.3" cy="594.8" r="5.8"/><circle cx="561.1" cy="595.6" r="5.8"/><circle cx="574.0" cy="591.2" r="5.8"/><circle cx="546.5" cy="595.3" r="5.8"/><circle cx="574.6" cy="595.0" r="5.8"/><circle cx="559.8" cy="596.1" r="5.8"/><circle cx="550.4" cy="593.0" r="5.8"/><circle cx="550.9" cy="594.8" r="5.8"/><circle cx="555.3" cy="592.7" r="5.8"/><circle cx="567.8" cy="598.7" r="5.8"/><circle cx="554.6" cy="595.7" r="5.8"/><circle cx="558.8" cy="597.0" r="5.8"/><circle cx="564.4" cy="592.7" r="5.8"/><circle cx="551.6" cy="591.6" r="5.8"/><circle cx="561.0" cy="593.6" r="5.8"/><circle cx="549.8" cy="593.6" r="5.8"/><circle cx="555.5" cy="596.2" r="5.8"/><circle cx="548.6" cy="596.7" r="5.8"/><circle cx="561.0" cy="595.3" r="5.8"/><circle cx="560.6" cy="597.0" r="5.8"/><circle cx="571.8" cy="595.3" r="5.8"/><circle cx="561.1" cy="596.2" r="5.8"/><circle cx="572.8" cy="593.8" r="5.8"/><circle cx="569.1" cy="598.9" r="5.8"/><circle cx="560.6" cy="592.5" r="5.8"/><circle cx="552.3" cy="595.6" r="5.8"/><circle cx="567.3" cy="598.7" r="5.8"/><circle cx="572.7" cy="592.2" r="5.8"/><circle cx="550.5" cy="593.0" r="5.8"/><circle cx="550.4" cy="595.4" r="5.8"/><circle cx="572.9" cy="598.8" r="5.8"/><circle cx="553.1" cy="596.5" r="5.8"/><circle cx="555.2" cy="593.9" r="5.8"/><circle cx="569.0" cy="590.9" r="5.8"/><circle cx="546.4" cy="595.7" r="5.8"/><circle cx="554.4" cy="593.5" r="5.8"/><circle cx="564.3" cy="596.0" r="5.8"/><circle cx="541.7" cy="593.5" r="5.8"/><circle cx="559.5" cy="594.4" r="5.8"/><circle cx="551.3" cy="594.8" r="5.8"/><circle cx="575.7" cy="593.7" r="5.8"/><circle cx="563.1" cy="591.5" r="5.8"/><circle cx="553.8" cy="595.4" r="5.8"/><circle cx="547.3" cy="596.1" r="5.8"/><circle cx="574.3" cy="590.6" r="5.8"/><circle cx="575.3" cy="593.5" r="5.8"/><circle cx="570.3" cy="597.2" r="5.8"/><circle cx="554.6" cy="595.5" r="5.8"/><circle cx="566.6" cy="597.3" r="5.8"/><circle cx="553.5" cy="595.9" r="5.8"/><circle cx="575.9" cy="596.7" r="5.8"/><circle cx="562.9" cy="591.5" r="5.8"/><circle cx="561.5" cy="593.4" r="5.8"/><circle cx="568.6" cy="596.3" r="5.8"/><circle cx="563.8" cy="592.0" r="5.8"/><circle cx="566.4" cy="595.8" r="5.8"/><circle cx="550.1" cy="596.4" r="5.8"/><circle cx="566.7" cy="591.3" r="5.8"/><circle cx="575.0" cy="591.0" r="5.8"/><circle cx="555.9" cy="595.8" r="5.8"/><circle cx="564.8" cy="595.1" r="5.8"/><circle cx="566.4" cy="594.3" r="5.8"/><circle cx="555.2" cy="592.3" r="5.8"/><circle cx="545.2" cy="595.1" r="5.8"/><circle cx="569.7" cy="595.1" r="5.8"/><circle cx="569.3" cy="593.4" r="5.8"/><circle cx="553.5" cy="593.7" r="5.8"/><circle cx="573.3" cy="590.1" r="5.8"/><circle cx="561.8" cy="592.6" r="5.8"/><circle cx="570.2" cy="593.3" r="5.8"/><circle cx="555.9" cy="593.8" r="5.8"/><circle cx="563.0" cy="596.7" r="5.8"/><circle cx="556.6" cy="596.7" r="5.8"/><circle cx="547.3" cy="593.2" r="5.8"/><circle cx="546.7" cy="592.4" r="5.8"/><circle cx="570.5" cy="596.9" r="5.8"/><circle cx="550.3" cy="592.6" r="5.8"/><circle cx="558.9" cy="596.2" r="5.8"/><circle cx="571.6" cy="597.2" r="5.8"/><circle cx="564.7" cy="591.6" r="5.8"/><circle cx="558.2" cy="592.3" r="5.8"/><circle cx="562.6" cy="595.1" r="5.8"/><circle cx="551.0" cy="592.9" r="5.8"/><circle cx="570.6" cy="590.2" r="5.8"/><circle cx="571.2" cy="598.5" r="5.8"/><circle cx="575.5" cy="593.6" r="5.8"/><circle cx="584.7" cy="554.8" r="5.8"/><circle cx="584.7" cy="555.7" r="5.8"/><circle cx="584.7" cy="556.6" r="5.8"/><circle cx="585.1" cy="557.5" r="5.8"/><circle cx="584.8" cy="558.4" r="5.8"/><circle cx="584.4" cy="559.3" r="5.8"/><circle cx="585.0" cy="560.2" r="5.8"/><circle cx="584.6" cy="561.1" r="5.8"/><circle cx="584.7" cy="562.0" r="5.8"/><circle cx="584.8" cy="562.9" r="5.8"/><circle cx="584.1" cy="563.8" r="5.8"/><circle cx="584.9" cy="564.7" r="5.8"/><circle cx="584.8" cy="565.6" r="5.8"/><circle cx="584.6" cy="566.5" r="5.8"/><circle cx="584.6" cy="567.4" r="5.8"/><circle cx="584.6" cy="568.3" r="5.8"/><circle cx="584.3" cy="569.2" r="5.8"/><circle cx="584.6" cy="570.1" r="5.8"/><circle cx="584.1" cy="571.0" r="5.8"/><circle cx="584.9" cy="571.9" r="5.8"/><circle cx="584.9" cy="572.6" r="5.8"/><circle cx="585.7" cy="573.3" r="5.8"/><circle cx="585.0" cy="574.0" r="5.8"/><circle cx="585.0" cy="574.7" r="5.8"/><circle cx="584.9" cy="575.4" r="5.8"/><circle cx="584.5" cy="576.1" r="5.8"/><circle cx="584.8" cy="576.1" r="5.8"/><circle cx="584.1" cy="576.8" r="5.8"/><circle cx="586.3" cy="576.8" r="5.8"/><circle cx="583.8" cy="577.5" r="5.8"/><circle cx="586.7" cy="577.5" r="5.8"/><circle cx="583.4" cy="578.2" r="5.8"/><circle cx="585.2" cy="578.2" r="5.8"/><circle cx="583.0" cy="578.9" r="5.8"/><circle cx="586.6" cy="578.9" r="5.8"/><circle cx="582.6" cy="579.6" r="5.8"/><circle cx="586.9" cy="579.6" r="5.8"/><circle cx="582.2" cy="580.3" r="5.8"/><circle cx="585.9" cy="580.3" r="5.8"/><circle cx="581.8" cy="581.0" r="5.8"/><circle cx="588.1" cy="581.0" r="5.8"/><circle cx="581.4" cy="581.7" r="5.8"/><circle cx="586.4" cy="581.7" r="5.8"/><circle cx="581.0" cy="582.4" r="5.8"/><circle cx="581.2" cy="582.4" r="5.8"/><circle cx="589.1" cy="582.4" r="5.8"/><circle cx="585.0" cy="582.5" r="5.8"/><circle cx="581.2" cy="583.2" r="5.8"/><circle cx="589.1" cy="583.2" r="5.8"/><circle cx="581.5" cy="583.2" r="5.8"/><circle cx="581.2" cy="584.0" r="5.8"/><circle cx="589.1" cy="584.0" r="5.8"/><circle cx="582.8" cy="584.1" r="5.8"/><circle cx="581.2" cy="584.8" r="5.8"/><circle cx="589.1" cy="584.8" r="5.8"/><circle cx="585.1" cy="585.2" r="5.8"/><circle cx="581.2" cy="585.6" r="5.8"/><circle cx="589.1" cy="585.6" r="5.8"/><circle cx="585.4" cy="585.9" r="5.8"/><circle cx="581.2" cy="586.4" r="5.8"/><circle cx="589.1" cy="586.4" r="5.8"/><circle cx="586.3" cy="586.6" r="5.8"/><circle cx="581.2" cy="587.2" r="5.8"/><circle cx="589.1" cy="587.2" r="5.8"/><circle cx="584.9" cy="587.7" r="5.8"/><circle cx="581.2" cy="588.0" r="5.8"/><circle cx="589.1" cy="588.0" r="5.8"/><circle cx="584.4" cy="588.1" r="5.8"/><circle cx="581.2" cy="588.8" r="5.8"/><circle cx="589.1" cy="588.8" r="5.8"/><circle cx="588.3" cy="589.2" r="5.8"/><circle cx="581.2" cy="589.6" r="5.8"/><circle cx="589.1" cy="589.6" r="5.8"/><circle cx="584.1" cy="589.8" r="5.8"/><circle cx="581.2" cy="590.4" r="5.8"/><circle cx="589.1" cy="590.4" r="5.8"/><circle cx="585.4" cy="590.8" r="5.8"/><circle cx="581.2" cy="591.2" r="5.8"/><circle cx="589.1" cy="591.2" r="5.8"/><circle cx="583.0" cy="591.2" r="5.8"/><circle cx="581.2" cy="592.0" r="5.8"/><circle cx="589.1" cy="592.0" r="5.8"/><circle cx="582.9" cy="592.5" r="5.8"/><circle cx="581.2" cy="592.8" r="5.8"/><circle cx="589.1" cy="592.8" r="5.8"/><circle cx="582.3" cy="593.1" r="5.8"/><circle cx="581.2" cy="593.6" r="5.8"/><circle cx="589.1" cy="593.6" r="5.8"/><circle cx="582.7" cy="593.7" r="5.8"/><circle cx="581.2" cy="594.4" r="5.8"/><circle cx="589.1" cy="594.4" r="5.8"/><circle cx="582.5" cy="594.6" r="5.8"/><circle cx="581.2" cy="595.2" r="5.8"/><circle cx="589.1" cy="595.2" r="5.8"/><circle cx="582.5" cy="595.2" r="5.8"/><circle cx="581.2" cy="596.0" r="5.8"/><circle cx="589.1" cy="596.0" r="5.8"/><circle cx="582.1" cy="596.1" r="5.8"/><circle cx="581.2" cy="596.8" r="5.8"/><circle cx="589.1" cy="596.8" r="5.8"/><circle cx="585.1" cy="596.8" r="5.8"/><circle cx="581.2" cy="597.6" r="5.8"/><circle cx="589.1" cy="597.6" r="5.8"/><circle cx="581.4" cy="597.9" r="5.8"/><circle cx="581.2" cy="598.4" r="5.8"/><circle cx="589.1" cy="598.4" r="5.8"/><circle cx="584.4" cy="598.8" r="5.8"/><circle cx="581.2" cy="599.2" r="5.8"/><circle cx="589.1" cy="599.2" r="5.8"/><circle cx="581.6" cy="599.4" r="5.8"/><circle cx="581.2" cy="600.0" r="5.8"/><circle cx="589.1" cy="600.0" r="5.8"/><circle cx="584.3" cy="600.0" r="5.8"/><circle cx="581.2" cy="600.8" r="5.8"/><circle cx="589.1" cy="600.8" r="5.8"/><circle cx="588.8" cy="600.9" r="5.8"/><circle cx="581.2" cy="601.6" r="5.8"/><circle cx="589.1" cy="601.6" r="5.8"/><circle cx="581.9" cy="601.9" r="5.8"/><circle cx="581.2" cy="602.4" r="5.8"/><circle cx="589.1" cy="602.4" r="5.8"/><circle cx="582.5" cy="602.8" r="5.8"/><circle cx="581.2" cy="603.2" r="5.8"/><circle cx="589.1" cy="603.2" r="5.8"/><circle cx="583.9" cy="603.3" r="5.8"/><circle cx="581.2" cy="604.0" r="5.8"/><circle cx="589.1" cy="604.0" r="5.8"/><circle cx="581.6" cy="604.4" r="5.8"/><circle cx="581.2" cy="604.8" r="5.8"/><circle cx="589.1" cy="604.8" r="5.8"/><circle cx="583.4" cy="605.3" r="5.8"/><circle cx="581.2" cy="605.6" r="5.8"/><circle cx="589.1" cy="605.6" r="5.8"/><circle cx="584.9" cy="606.2" r="5.8"/><circle cx="581.2" cy="606.4" r="5.8"/><circle cx="589.1" cy="606.4" r="5.8"/><circle cx="583.6" cy="606.5" r="5.8"/><circle cx="581.2" cy="607.2" r="5.8"/><circle cx="589.1" cy="607.2" r="5.8"/><circle cx="583.3" cy="607.7" r="5.8"/><circle cx="581.2" cy="608.0" r="5.8"/><circle cx="589.1" cy="608.0" r="5.8"/><circle cx="586.2" cy="608.2" r="5.8"/><circle cx="581.2" cy="608.8" r="5.8"/><circle cx="589.1" cy="608.8" r="5.8"/><circle cx="581.9" cy="609.2" r="5.8"/><circle cx="581.2" cy="609.6" r="5.8"/><circle cx="589.1" cy="609.6" r="5.8"/><circle cx="588.9" cy="610.0" r="5.8"/><circle cx="581.2" cy="610.4" r="5.8"/><circle cx="589.1" cy="610.4" r="5.8"/><circle cx="581.2" cy="610.4" r="5.8"/><circle cx="581.2" cy="611.2" r="5.8"/><circle cx="589.1" cy="611.2" r="5.8"/><circle cx="581.9" cy="611.3" r="5.8"/><circle cx="581.2" cy="612.0" r="5.8"/><circle cx="589.1" cy="612.0" r="5.8"/><circle cx="581.5" cy="612.0" r="5.8"/><circle cx="581.2" cy="612.8" r="5.8"/><circle cx="589.1" cy="612.8" r="5.8"/><circle cx="586.4" cy="613.3" r="5.8"/><circle cx="581.2" cy="613.6" r="5.8"/><circle cx="589.1" cy="613.6" r="5.8"/><circle cx="582.8" cy="614.2" r="5.8"/><circle cx="581.2" cy="614.4" r="5.8"/><circle cx="589.1" cy="614.4" r="5.8"/><circle cx="585.0" cy="614.9" r="5.8"/><circle cx="581.2" cy="615.2" r="5.8"/><circle cx="589.1" cy="615.2" r="5.8"/><circle cx="588.4" cy="615.8" r="5.8"/><circle cx="581.2" cy="616.0" r="5.8"/><circle cx="589.1" cy="616.0" r="5.8"/><circle cx="581.5" cy="616.2" r="5.8"/><circle cx="581.2" cy="616.8" r="5.8"/><circle cx="589.1" cy="616.8" r="5.8"/><circle cx="586.0" cy="617.4" r="5.8"/><circle cx="581.2" cy="617.6" r="5.8"/><circle cx="589.1" cy="617.6" r="5.8"/><circle cx="581.9" cy="617.8" r="5.8"/><circle cx="581.2" cy="618.4" r="5.8"/><circle cx="589.1" cy="618.4" r="5.8"/><circle cx="587.9" cy="618.5" r="5.8"/><circle cx="581.2" cy="619.2" r="5.8"/><circle cx="589.1" cy="619.2" r="5.8"/><circle cx="584.3" cy="619.4" r="5.8"/><circle cx="581.2" cy="620.0" r="5.8"/><circle cx="589.1" cy="620.0" r="5.8"/><circle cx="586.6" cy="620.6" r="5.8"/><circle cx="581.2" cy="620.8" r="5.8"/><circle cx="589.1" cy="620.8" r="5.8"/><circle cx="582.6" cy="621.2" r="5.8"/><circle cx="581.2" cy="621.6" r="5.8"/><circle cx="589.1" cy="621.6" r="5.8"/><circle cx="587.0" cy="622.1" r="5.8"/><circle cx="585.8" cy="622.4" r="5.8"/><circle cx="588.6" cy="623.0" r="5.8"/><circle cx="584.8" cy="623.6" r="5.8"/><circle cx="585.4" cy="624.2" r="5.8"/><circle cx="584.5" cy="624.8" r="5.8"/><circle cx="588.0" cy="625.4" r="5.8"/><circle cx="586.5" cy="626.0" r="5.8"/><circle cx="585.7" cy="626.6" r="5.8"/><circle cx="585.6" cy="627.2" r="5.8"/><circle cx="588.1" cy="627.8" r="5.8"/><circle cx="587.8" cy="628.4" r="5.8"/><circle cx="588.3" cy="629.0" r="5.8"/><circle cx="587.6" cy="629.6" r="5.8"/><circle cx="588.0" cy="630.2" r="5.8"/><circle cx="587.6" cy="630.8" r="5.8"/><circle cx="588.8" cy="631.4" r="5.8"/><circle cx="588.2" cy="632.0" r="5.8"/><circle cx="588.7" cy="632.6" r="5.8"/><circle cx="588.9" cy="633.5" r="5.8"/><circle cx="588.9" cy="634.4" r="5.8"/><circle cx="588.3" cy="635.3" r="5.8"/><circle cx="588.5" cy="636.2" r="5.8"/><circle cx="589.0" cy="637.1" r="5.8"/><circle cx="588.8" cy="638.0" r="5.8"/><circle cx="589.0" cy="638.9" r="5.8"/><circle cx="589.0" cy="639.8" r="5.8"/><circle cx="588.7" cy="640.7" r="5.8"/><circle cx="589.1" cy="641.6" r="5.8"/><circle cx="588.9" cy="642.5" r="5.8"/><circle cx="588.6" cy="643.4" r="5.8"/><circle cx="588.6" cy="644.3" r="5.8"/><circle cx="588.3" cy="645.2" r="5.8"/><circle cx="588.6" cy="646.1" r="5.8"/><circle cx="589.1" cy="647.0" r="5.8"/><circle cx="588.3" cy="647.9" r="5.8"/><circle cx="588.8" cy="648.8" r="5.8"/><circle cx="588.3" cy="649.7" r="5.8"/><circle cx="588.3" cy="650.6" r="5.8"/><circle cx="588.8" cy="651.5" r="5.8"/><circle cx="588.5" cy="652.4" r="5.8"/><circle cx="588.3" cy="653.3" r="5.8"/><circle cx="588.4" cy="654.2" r="5.8"/><circle cx="588.8" cy="655.1" r="5.8"/><circle cx="588.8" cy="656.0" r="5.8"/><circle cx="588.3" cy="656.9" r="5.8"/><circle cx="588.5" cy="657.8" r="5.8"/><circle cx="589.1" cy="658.7" r="5.8"/><circle cx="588.4" cy="659.6" r="5.8"/><circle cx="588.8" cy="660.5" r="5.8"/><circle cx="588.6" cy="661.4" r="5.8"/><circle cx="589.0" cy="662.3" r="5.8"/><circle cx="588.8" cy="663.2" r="5.8"/><circle cx="589.0" cy="664.1" r="5.8"/><circle cx="588.7" cy="665.0" r="5.8"/><circle cx="588.4" cy="665.9" r="5.8"/><circle cx="588.4" cy="666.8" r="5.8"/><circle cx="588.3" cy="667.7" r="5.8"/><circle cx="589.0" cy="668.6" r="5.8"/><circle cx="588.4" cy="669.5" r="5.8"/><circle cx="588.3" cy="670.4" r="5.8"/><circle cx="589.1" cy="671.3" r="5.8"/><circle cx="588.4" cy="672.2" r="5.8"/><circle cx="589.1" cy="673.1" r="5.8"/><circle cx="588.3" cy="674.0" r="5.8"/><circle cx="588.7" cy="674.9" r="5.8"/><circle cx="588.5" cy="675.8" r="5.8"/><circle cx="589.0" cy="676.7" r="5.8"/><circle cx="588.8" cy="677.6" r="5.8"/><circle cx="588.8" cy="678.5" r="5.8"/><circle cx="588.9" cy="679.4" r="5.8"/><circle cx="586.8" cy="680.3" r="5.8"/><circle cx="586.4" cy="681.2" r="5.8"/><circle cx="586.6" cy="682.1" r="5.8"/><circle cx="588.7" cy="683.0" r="5.8"/><circle cx="588.3" cy="683.9" r="5.8"/><circle cx="589.0" cy="684.8" r="5.8"/><circle cx="588.8" cy="685.7" r="5.8"/><circle cx="589.0" cy="686.6" r="5.8"/><circle cx="588.4" cy="687.5" r="5.8"/><circle cx="588.7" cy="688.4" r="5.8"/><circle cx="588.7" cy="689.3" r="5.8"/><circle cx="588.9" cy="690.2" r="5.8"/><circle cx="588.3" cy="691.1" r="5.8"/><circle cx="588.6" cy="692.0" r="5.8"/><circle cx="588.7" cy="692.9" r="5.8"/><circle cx="588.3" cy="693.8" r="5.8"/><circle cx="588.7" cy="694.7" r="5.8"/><circle cx="588.9" cy="695.6" r="5.8"/><circle cx="588.6" cy="696.5" r="5.8"/><circle cx="588.8" cy="697.4" r="5.8"/><circle cx="588.8" cy="698.3" r="5.8"/><circle cx="588.4" cy="699.2" r="5.8"/><circle cx="588.6" cy="700.1" r="5.8"/><circle cx="589.1" cy="701.0" r="5.8"/><circle cx="588.6" cy="701.9" r="5.8"/><circle cx="588.6" cy="702.8" r="5.8"/><circle cx="588.3" cy="703.7" r="5.8"/><circle cx="588.4" cy="704.6" r="5.8"/><circle cx="588.4" cy="705.5" r="5.8"/><circle cx="586.9" cy="706.4" r="5.8"/><circle cx="586.7" cy="707.3" r="5.8"/><circle cx="589.0" cy="708.2" r="5.8"/><circle cx="589.1" cy="709.1" r="5.8"/><circle cx="588.8" cy="710.0" r="5.8"/><circle cx="589.1" cy="710.9" r="5.8"/><circle cx="588.7" cy="711.8" r="5.8"/><circle cx="588.6" cy="712.7" r="5.8"/><circle cx="589.1" cy="713.6" r="5.8"/><circle cx="589.1" cy="714.5" r="5.8"/><circle cx="589.1" cy="715.4" r="5.8"/><circle cx="588.7" cy="716.3" r="5.8"/><circle cx="588.9" cy="717.2" r="5.8"/><circle cx="588.6" cy="718.1" r="5.8"/><circle cx="589.1" cy="719.0" r="5.8"/><circle cx="589.1" cy="719.9" r="5.8"/><circle cx="588.5" cy="720.8" r="5.8"/><circle cx="589.1" cy="721.7" r="5.8"/><circle cx="587.5" cy="749.0" r="5.8"/><circle cx="587.4" cy="749.9" r="5.8"/><circle cx="588.0" cy="750.8" r="5.8"/><circle cx="587.6" cy="751.7" r="5.8"/><circle cx="587.8" cy="752.6" r="5.8"/><circle cx="587.9" cy="753.5" r="5.8"/><circle cx="587.3" cy="754.4" r="5.8"/><circle cx="588.0" cy="755.3" r="5.8"/><circle cx="587.6" cy="756.2" r="5.8"/><circle cx="587.7" cy="757.1" r="5.8"/><circle cx="587.6" cy="758.0" r="5.8"/><circle cx="588.0" cy="758.9" r="5.8"/><circle cx="588.0" cy="759.8" r="5.8"/><circle cx="587.6" cy="760.7" r="5.8"/><circle cx="587.4" cy="761.6" r="5.8"/><circle cx="587.6" cy="762.5" r="5.8"/><circle cx="587.7" cy="763.4" r="5.8"/><circle cx="587.4" cy="764.3" r="5.8"/><circle cx="587.5" cy="765.2" r="5.8"/><circle cx="588.1" cy="766.1" r="5.8"/><circle cx="588.0" cy="767.0" r="5.8"/><circle cx="588.3" cy="767.9" r="5.8"/><circle cx="588.3" cy="768.8" r="5.8"/><circle cx="588.2" cy="769.7" r="5.8"/><circle cx="587.7" cy="770.6" r="5.8"/><circle cx="587.5" cy="771.5" r="5.8"/><circle cx="587.6" cy="772.4" r="5.8"/><circle cx="587.8" cy="773.3" r="5.8"/><circle cx="587.8" cy="774.2" r="5.8"/><circle cx="587.8" cy="775.1" r="5.8"/><circle cx="587.7" cy="776.0" r="5.8"/><circle cx="588.2" cy="776.9" r="5.8"/><circle cx="587.6" cy="777.8" r="5.8"/><circle cx="587.8" cy="778.7" r="5.8"/><circle cx="588.2" cy="779.6" r="5.8"/><circle cx="588.1" cy="780.5" r="5.8"/><circle cx="587.6" cy="781.4" r="5.8"/><circle cx="587.5" cy="782.3" r="5.8"/><circle cx="588.1" cy="783.2" r="5.8"/><circle cx="587.3" cy="784.1" r="5.8"/><circle cx="587.4" cy="785.0" r="5.8"/><circle cx="587.8" cy="785.9" r="5.8"/><circle cx="587.8" cy="786.8" r="5.8"/><circle cx="587.5" cy="787.7" r="5.8"/><circle cx="587.4" cy="788.6" r="5.8"/><circle cx="587.5" cy="789.5" r="5.8"/><circle cx="588.1" cy="790.4" r="5.8"/><circle cx="587.8" cy="791.3" r="5.8"/><circle cx="588.3" cy="792.2" r="5.8"/><circle cx="588.1" cy="793.1" r="5.8"/><circle cx="588.3" cy="794.0" r="5.8"/><circle cx="587.3" cy="794.9" r="5.8"/><circle cx="587.5" cy="795.8" r="5.8"/><circle cx="587.3" cy="796.7" r="5.8"/><circle cx="587.7" cy="797.6" r="5.8"/><circle cx="587.6" cy="798.5" r="5.8"/><circle cx="587.4" cy="799.4" r="5.8"/><circle cx="587.8" cy="800.3" r="5.8"/><circle cx="587.4" cy="801.2" r="5.8"/><circle cx="587.6" cy="802.1" r="5.8"/><circle cx="587.5" cy="803.0" r="5.8"/><circle cx="588.1" cy="803.9" r="5.8"/><circle cx="587.7" cy="804.8" r="5.8"/><circle cx="587.6" cy="805.7" r="5.8"/><circle cx="587.3" cy="806.6" r="5.8"/><circle cx="587.7" cy="807.5" r="5.8"/><circle cx="587.9" cy="808.4" r="5.8"/><circle cx="588.0" cy="809.3" r="5.8"/><circle cx="588.2" cy="810.2" r="5.8"/><circle cx="588.1" cy="811.1" r="5.8"/><circle cx="587.5" cy="812.0" r="5.8"/><circle cx="587.4" cy="812.9" r="5.8"/><circle cx="588.1" cy="813.8" r="5.8"/><circle cx="588.1" cy="814.7" r="5.8"/><circle cx="587.8" cy="815.6" r="5.8"/><circle cx="588.1" cy="816.5" r="5.8"/><circle cx="587.9" cy="817.4" r="5.8"/><circle cx="587.6" cy="818.3" r="5.8"/><circle cx="587.5" cy="819.2" r="5.8"/><circle cx="587.3" cy="820.1" r="5.8"/><circle cx="587.9" cy="821.0" r="5.8"/><circle cx="588.2" cy="821.9" r="5.8"/><circle cx="588.2" cy="822.8" r="5.8"/><circle cx="587.8" cy="823.7" r="5.8"/><circle cx="588.0" cy="824.6" r="5.8"/><circle cx="588.2" cy="825.5" r="5.8"/><circle cx="588.1" cy="826.4" r="5.8"/><circle cx="587.9" cy="827.3" r="5.8"/><circle cx="587.7" cy="828.2" r="5.8"/><circle cx="587.8" cy="829.1" r="5.8"/><circle cx="587.5" cy="830.0" r="5.8"/><circle cx="587.5" cy="830.9" r="5.8"/><circle cx="588.0" cy="831.8" r="5.8"/><circle cx="588.3" cy="832.7" r="5.8"/><circle cx="587.8" cy="833.6" r="5.8"/><circle cx="587.7" cy="834.5" r="5.8"/><circle cx="587.7" cy="835.4" r="5.8"/><circle cx="587.8" cy="836.3" r="5.8"/><circle cx="587.8" cy="837.0" r="5.8"/></g>
<line x1="142.20" y1="848.00" x2="142.20" y2="543.60" stroke="#d3d3d3" stroke-width="2" stroke-dasharray="2 6" stroke-linecap="round"/>
<line x1="286.30" y1="848.00" x2="286.30" y2="543.60" stroke="#d3d3d3" stroke-width="2" stroke-dasharray="2 6" stroke-linecap="round"/>
<line x1="430.40" y1="848.00" x2="430.40" y2="543.60" stroke="#d3d3d3" stroke-width="2" stroke-dasharray="2 6" stroke-linecap="round"/>
<line x1="574.50" y1="848.00" x2="574.50" y2="543.60" stroke="#d3d3d3" stroke-width="2" stroke-dasharray="2 6" stroke-linecap="round"/>
<line x1="111.60" y1="582.10" x2="608.20" y2="582.10" stroke="#d3d3d3" stroke-width="2" stroke-dasharray="2 6" stroke-linecap="round"/>
<line x1="111.60" y1="638.60" x2="608.20" y2="638.60" stroke="#d3d3d3" stroke-width="2" stroke-dasharray="2 6" stroke-linecap="round"/>
<line x1="111.60" y1="695.10" x2="608.20" y2="695.10" stroke="#d3d3d3" stroke-width="2" stroke-dasharray="2 6" stroke-linecap="round"/>
<line x1="111.60" y1="751.60" x2="608.20" y2="751.60" stroke="#d3d3d3" stroke-width="2" stroke-dasharray="2 6" stroke-linecap="round"/>
<line x1="111.60" y1="808.10" x2="608.20" y2="808.10" stroke="#d3d3d3" stroke-width="2" stroke-dasharray="2 6" stroke-linecap="round"/>
<clipPath id="c3"><rect x="111.6" y="543.6" width="496.6" height="304.4"/></clipPath>
<line x1="116.40" y1="543.60" x2="110.00" y2="848.00" stroke="#808080" stroke-width="2.2" clip-path="url(#c3)"/>
<text transform="translate(116.40 537.20) scale(1 1.06)" fill="#808080" font-size="19.2" text-anchor="middle" >22.8</text>
<line x1="192.50" y1="543.60" x2="186.10" y2="848.00" stroke="#808080" stroke-width="2.2" clip-path="url(#c3)"/>
<text transform="translate(192.50 537.20) scale(1 1.06)" fill="#808080" font-size="19.2" text-anchor="middle" >23</text>
<line x1="269.20" y1="543.60" x2="262.80" y2="848.00" stroke="#808080" stroke-width="2.2" clip-path="url(#c3)"/>
<text transform="translate(269.20 537.20) scale(1 1.06)" fill="#808080" font-size="19.2" text-anchor="middle" >23.2</text>
<line x1="345.70" y1="543.60" x2="339.20" y2="848.00" stroke="#808080" stroke-width="2.2" clip-path="url(#c3)"/>
<text transform="translate(345.70 537.20) scale(1 1.06)" fill="#808080" font-size="19.2" text-anchor="middle" >23.4</text>
<line x1="422.20" y1="543.60" x2="415.60" y2="848.00" stroke="#808080" stroke-width="2.2" clip-path="url(#c3)"/>
<text transform="translate(422.20 537.20) scale(1 1.06)" fill="#808080" font-size="19.2" text-anchor="middle" >23.6</text>
<line x1="498.60" y1="543.60" x2="492.00" y2="848.00" stroke="#808080" stroke-width="2.2" clip-path="url(#c3)"/>
<text transform="translate(498.60 537.20) scale(1 1.06)" fill="#808080" font-size="19.2" text-anchor="middle" >23.8</text>
<line x1="575.00" y1="543.60" x2="568.40" y2="848.00" stroke="#808080" stroke-width="2.2" clip-path="url(#c3)"/>
<text transform="translate(575.00 537.20) scale(1 1.06)" fill="#808080" font-size="19.2" text-anchor="middle" >24</text>
<rect x="111.60" y="543.60" width="496.60" height="304.40" fill="none" stroke="#000" stroke-width="2.2"/>
<line x1="142.20" y1="848.00" x2="142.20" y2="864.60" stroke="#000" stroke-width="2" />
<text transform="translate(142.20 895.70) scale(1 1.06)" fill="#000" font-size="26.56" text-anchor="middle" >35.0</text>
<line x1="286.30" y1="848.00" x2="286.30" y2="864.60" stroke="#000" stroke-width="2" />
<text transform="translate(286.30 895.70) scale(1 1.06)" fill="#000" font-size="26.56" text-anchor="middle" >35.5</text>
<line x1="430.40" y1="848.00" x2="430.40" y2="864.60" stroke="#000" stroke-width="2" />
<text transform="translate(430.40 895.70) scale(1 1.06)" fill="#000" font-size="26.56" text-anchor="middle" >36.0</text>
<line x1="574.50" y1="848.00" x2="574.50" y2="864.60" stroke="#000" stroke-width="2" />
<text transform="translate(574.50 895.70) scale(1 1.06)" fill="#000" font-size="26.56" text-anchor="middle" >36.5</text>
<text transform="translate(359.50 937.70) scale(1 1.06)" fill="#000" font-size="26.56" text-anchor="middle" >Salinity</text>
<line x1="111.60" y1="582.10" x2="95.00" y2="582.10" stroke="#000" stroke-width="2" />
<line x1="111.60" y1="638.60" x2="95.00" y2="638.60" stroke="#000" stroke-width="2" />
<line x1="111.60" y1="695.10" x2="95.00" y2="695.10" stroke="#000" stroke-width="2" />
<line x1="111.60" y1="751.60" x2="95.00" y2="751.60" stroke="#000" stroke-width="2" />
<line x1="111.60" y1="808.10" x2="95.00" y2="808.10" stroke="#000" stroke-width="2" />
<text transform="translate(82.30 582.10) rotate(-90) scale(1 1.06)" fill="#000" font-size="26.56" text-anchor="middle" >26.52</text>
<text transform="translate(82.30 695.10) rotate(-90) scale(1 1.06)" fill="#000" font-size="26.56" text-anchor="middle" >26.50</text>
<text transform="translate(82.30 808.10) rotate(-90) scale(1 1.06)" fill="#000" font-size="26.56" text-anchor="middle" >26.48</text>
<text transform="translate(35.70 695.80) rotate(-90) scale(1 1.06)" fill="#000" font-size="26.56" text-anchor="middle" >θ [ °C ]</text>
<clipPath id="c4"><rect x="783.6" y="543.6" width="496.6" height="304.4"/></clipPath>
<polygon points="825.3,540 859.4,648.9 964.9,677.7 1030.7,648.1 1068.6,544.4 1070,540" fill="#d3d3d3" clip-path="url(#c4)"/>
<circle cx="1031.9" cy="695.9" r="7.1" fill="#ff0000"/>
<rect x="783.60" y="543.60" width="496.60" height="304.40" fill="none" stroke="#000" stroke-width="2.2"/>
<line x1="787.80" y1="543.60" x2="787.80" y2="527.00" stroke="#000" stroke-width="2" />
<line x1="787.80" y1="848.00" x2="787.80" y2="864.60" stroke="#000" stroke-width="2" />
<text transform="translate(787.80 895.80) scale(1 1.06)" fill="#000" font-size="26.56" text-anchor="middle" >-81.5</text>
<line x1="896.30" y1="543.60" x2="896.30" y2="527.00" stroke="#000" stroke-width="2" />
<line x1="896.30" y1="848.00" x2="896.30" y2="864.60" stroke="#000" stroke-width="2" />
<text transform="translate(896.30 895.80) scale(1 1.06)" fill="#000" font-size="26.56" text-anchor="middle" >-81</text>
<line x1="1004.80" y1="543.60" x2="1004.80" y2="527.00" stroke="#000" stroke-width="2" />
<line x1="1004.80" y1="848.00" x2="1004.80" y2="864.60" stroke="#000" stroke-width="2" />
<text transform="translate(1004.80 895.80) scale(1 1.06)" fill="#000" font-size="26.56" text-anchor="middle" >-80.5</text>
<line x1="1113.30" y1="543.60" x2="1113.30" y2="527.00" stroke="#000" stroke-width="2" />
<line x1="1113.30" y1="848.00" x2="1113.30" y2="864.60" stroke="#000" stroke-width="2" />
<text transform="translate(1113.30 895.80) scale(1 1.06)" fill="#000" font-size="26.56" text-anchor="middle" >-80</text>
<line x1="1221.80" y1="543.60" x2="1221.80" y2="527.00" stroke="#000" stroke-width="2" />
<line x1="1221.80" y1="848.00" x2="1221.80" y2="864.60" stroke="#000" stroke-width="2" />
<text transform="translate(1221.80 895.80) scale(1 1.06)" fill="#000" font-size="26.56" text-anchor="middle" >-79.5</text>
<line x1="783.60" y1="577.50" x2="767.00" y2="577.50" stroke="#000" stroke-width="2" />
<line x1="1280.20" y1="577.50" x2="1296.80" y2="577.50" stroke="#000" stroke-width="2" />
<text transform="translate(754.30 577.50) rotate(-90) scale(1 1.06)" fill="#000" font-size="26.56" text-anchor="middle" >25.5</text>
<line x1="783.60" y1="697.20" x2="767.00" y2="697.20" stroke="#000" stroke-width="2" />
<line x1="1280.20" y1="697.20" x2="1296.80" y2="697.20" stroke="#000" stroke-width="2" />
<text transform="translate(754.30 697.20) rotate(-90) scale(1 1.06)" fill="#000" font-size="26.56" text-anchor="middle" >25</text>
<line x1="783.60" y1="816.90" x2="767.00" y2="816.90" stroke="#000" stroke-width="2" />
<line x1="1280.20" y1="816.90" x2="1296.80" y2="816.90" stroke="#000" stroke-width="2" />
<text transform="translate(754.30 816.90) rotate(-90) scale(1 1.06)" fill="#000" font-size="26.56" text-anchor="middle" >24.5</text>
<text transform="translate(784.00 521.40) scale(1 1.06)" fill="#000" font-size="26.56" text-anchor="start" >MR</text>
<text transform="translate(1280.60 521.40) scale(1 1.06)" fill="#000" font-size="26.56" text-anchor="end" textLength="249">2018-04-30 21:57:17</text>
</svg>
</body></html>
